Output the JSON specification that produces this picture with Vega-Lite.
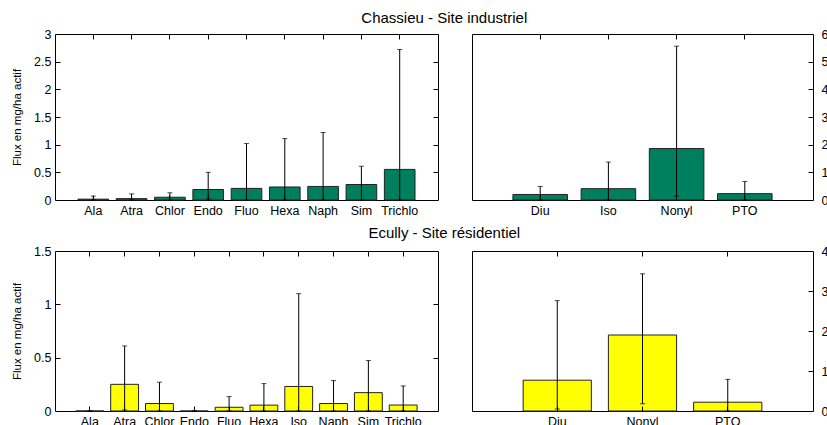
{
  "$schema": "https://vega.github.io/schema/vega-lite/v6.json",
  "autosize": {"type": "none"},
  "padding": {"left": 55, "top": 34, "right": 772, "bottom": 391},
  "background": "white",
  "config": {
    "font": "Liberation Sans",
    "view": {"stroke": "black", "strokeWidth": 1},
    "axis": {
      "domain": false,
      "grid": false,
      "labelFont": "Liberation Sans",
      "labelFontSize": 12.5,
      "labelColor": "black",
      "labelPadding": 4,
      "titleFont": "Liberation Sans",
      "titleFontSize": 11.5,
      "titleFontWeight": "normal",
      "titleColor": "black",
      "titlePadding": 11
    },
    "title": {"font": "Liberation Sans", "fontSize": 15, "fontWeight": "normal", "color": "black", "anchor": "middle", "dx": 21},
    "concat": {"spacing": 32}
  },
  "datasets": {
    "flux": [
      {"panel": "A", "cat": "Ala", "value": 0.015, "low": 0, "high": 0.07},
      {"panel": "A", "cat": "Atra", "value": 0.025, "low": 0, "high": 0.11},
      {"panel": "A", "cat": "Chlor", "value": 0.05, "low": 0, "high": 0.13},
      {"panel": "A", "cat": "Endo", "value": 0.19, "low": 0.02, "high": 0.5},
      {"panel": "A", "cat": "Fluo", "value": 0.21, "low": 0, "high": 1.02},
      {"panel": "A", "cat": "Hexa", "value": 0.235, "low": 0, "high": 1.11},
      {"panel": "A", "cat": "Naph", "value": 0.245, "low": 0, "high": 1.22},
      {"panel": "A", "cat": "Sim", "value": 0.28, "low": 0, "high": 0.61},
      {"panel": "A", "cat": "Trichlo", "value": 0.553, "low": 0, "high": 2.72},
      {"panel": "B", "cat": "Diu", "value": 2.0, "low": 0, "high": 4.9},
      {"panel": "B", "cat": "Iso", "value": 4.1, "low": 0, "high": 13.7},
      {"panel": "B", "cat": "Nonyl", "value": 18.6, "low": 1.4, "high": 55.6},
      {"panel": "B", "cat": "PTO", "value": 2.3, "low": 0, "high": 6.7},
      {"panel": "C", "cat": "Ala", "value": 0, "low": 0, "high": 0},
      {"panel": "C", "cat": "Atra", "value": 0.25, "low": 0.01, "high": 0.61},
      {"panel": "C", "cat": "Chlor", "value": 0.07, "low": 0, "high": 0.27},
      {"panel": "C", "cat": "Endo", "value": 0, "low": 0, "high": 0},
      {"panel": "C", "cat": "Fluo", "value": 0.035, "low": 0, "high": 0.135},
      {"panel": "C", "cat": "Hexa", "value": 0.055, "low": 0, "high": 0.257},
      {"panel": "C", "cat": "Iso", "value": 0.23, "low": 0, "high": 1.1},
      {"panel": "C", "cat": "Naph", "value": 0.07, "low": 0, "high": 0.285},
      {"panel": "C", "cat": "Sim", "value": 0.172, "low": 0, "high": 0.473},
      {"panel": "C", "cat": "Trichlo", "value": 0.056, "low": 0, "high": 0.235},
      {"panel": "D", "cat": "Diu", "value": 7.7, "low": 0.5, "high": 27.6},
      {"panel": "D", "cat": "Nonyl", "value": 19.0, "low": 1.8, "high": 34.3},
      {"panel": "D", "cat": "PTO", "value": 2.2, "low": 0, "high": 7.9}
    ]
  },
  "vconcat": [
    {
      "title": {"text": "Chassieu - Site industriel", "offset": 2},
      "hconcat": [
        {
          "width": 383, "height": 166,
          "data": {"name": "flux"},
          "transform": [{"filter": "datum.panel == 'A'"}],
          "layer": [
            {
              "mark": {"type": "bar", "fill": "#007f5f", "stroke": "#222222", "strokeWidth": 1},
              "encoding": {
                "x": {"field": "cat", "type": "nominal", "sort": null, "scale": {"paddingInner": 0.2, "paddingOuter": 0.6}, "axis": {"orient": "bottom", "title": null, "labelAngle": 0, "ticks": false}},
                "y": {"field": "value", "type": "quantitative", "scale": {"domain": [0, 3], "nice": false, "zero": true}, "axis": {"orient": "left", "title": "Flux en mg/ha actif", "values": [0, 0.5, 1, 1.5, 2, 2.5, 3], "format": "~g", "ticks": false}}
              }
            },
            {
              "mark": {"type": "rule", "color": "black", "strokeWidth": 1},
              "encoding": {
                "x": {"field": "cat", "type": "nominal", "sort": null, "scale": {"paddingInner": 0.2, "paddingOuter": 0.6}, "axis": {"orient": "top", "title": null, "labels": false, "ticks": true, "tickSize": 5, "tickColor": "black", "tickWidth": 1, "offset": -5, "zindex": 1}},
                "y": {"field": "low", "type": "quantitative", "scale": {"domain": [0, 3], "nice": false, "zero": true}, "axis": {"orient": "right", "title": null, "labels": false, "ticks": true, "tickSize": 5, "tickColor": "black", "tickWidth": 1, "offset": -5, "zindex": 1, "values": [0.5, 1, 1.5, 2, 2.5]}},
                "y2": {"field": "high"}
              }
            },
            {
              "mark": {"type": "tick", "color": "black", "size": 5, "thickness": 1},
              "encoding": {
                "x": {"field": "cat", "type": "nominal", "sort": null, "scale": {"paddingInner": 0.2, "paddingOuter": 0.6}, "axis": {"orient": "bottom", "title": null, "labels": false, "ticks": true, "tickSize": 5, "tickColor": "black", "tickWidth": 1, "offset": -5, "zindex": 1}},
                "y": {"field": "high", "type": "quantitative", "scale": {"domain": [0, 3], "nice": false, "zero": true}, "axis": {"orient": "left", "title": null, "labels": false, "ticks": true, "tickSize": 5, "tickColor": "black", "tickWidth": 1, "offset": -5, "zindex": 1, "values": [0.5, 1, 1.5, 2, 2.5]}}
              }
            },
            {
              "mark": {"type": "tick", "color": "black", "size": 5, "thickness": 1},
              "encoding": {
                "x": {"field": "cat", "type": "nominal", "sort": null, "scale": {"paddingInner": 0.2, "paddingOuter": 0.6}, "axis": null},
                "y": {"field": "low", "type": "quantitative", "scale": {"domain": [0, 3], "nice": false, "zero": true}, "axis": null}
              }
            }
          ],
          "resolve": {"scale": {"x": "independent", "y": "independent"}, "axis": {"x": "independent", "y": "independent"}}
        },
        {
          "width": 341, "height": 166,
          "data": {"name": "flux"},
          "transform": [{"filter": "datum.panel == 'B'"}],
          "layer": [
            {
              "mark": {"type": "bar", "fill": "#007f5f", "stroke": "#222222", "strokeWidth": 1},
              "encoding": {
                "x": {"field": "cat", "type": "nominal", "sort": null, "scale": {"paddingInner": 0.2, "paddingOuter": 0.6}, "axis": {"orient": "bottom", "title": null, "labelAngle": 0, "ticks": false}},
                "y": {"field": "value", "type": "quantitative", "scale": {"domain": [0, 60], "nice": false, "zero": true}, "axis": {"orient": "right", "title": null, "values": [0, 10, 20, 30, 40, 50, 60], "labelPadding": 8, "ticks": false}}
              }
            },
            {
              "mark": {"type": "rule", "color": "black", "strokeWidth": 1},
              "encoding": {
                "x": {"field": "cat", "type": "nominal", "sort": null, "scale": {"paddingInner": 0.2, "paddingOuter": 0.6}, "axis": {"orient": "top", "title": null, "labels": false, "ticks": true, "tickSize": 5, "tickColor": "black", "tickWidth": 1, "offset": -5, "zindex": 1}},
                "y": {"field": "low", "type": "quantitative", "scale": {"domain": [0, 60], "nice": false, "zero": true}, "axis": {"orient": "right", "title": null, "labels": false, "ticks": true, "tickSize": 5, "tickColor": "black", "tickWidth": 1, "offset": -5, "zindex": 1, "values": [10, 20, 30, 40, 50]}},
                "y2": {"field": "high"}
              }
            },
            {
              "mark": {"type": "tick", "color": "black", "size": 5, "thickness": 1},
              "encoding": {
                "x": {"field": "cat", "type": "nominal", "sort": null, "scale": {"paddingInner": 0.2, "paddingOuter": 0.6}, "axis": {"orient": "bottom", "title": null, "labels": false, "ticks": true, "tickSize": 5, "tickColor": "black", "tickWidth": 1, "offset": -5, "zindex": 1}},
                "y": {"field": "high", "type": "quantitative", "scale": {"domain": [0, 60], "nice": false, "zero": true}, "axis": null}
              }
            },
            {
              "mark": {"type": "tick", "color": "black", "size": 5, "thickness": 1},
              "encoding": {
                "x": {"field": "cat", "type": "nominal", "sort": null, "scale": {"paddingInner": 0.2, "paddingOuter": 0.6}, "axis": null},
                "y": {"field": "low", "type": "quantitative", "scale": {"domain": [0, 60], "nice": false, "zero": true}, "axis": null}
              }
            }
          ],
          "resolve": {"scale": {"x": "independent", "y": "independent"}, "axis": {"x": "independent", "y": "independent"}}
        }
      ]
    },
    {
      "title": {"text": "Ecully - Site résidentiel", "offset": 4},
      "hconcat": [
        {
          "width": 383, "height": 160,
          "data": {"name": "flux"},
          "transform": [{"filter": "datum.panel == 'C'"}],
          "layer": [
            {
              "mark": {"type": "bar", "fill": "#ffff00", "stroke": "#222222", "strokeWidth": 1},
              "encoding": {
                "x": {"field": "cat", "type": "nominal", "sort": null, "scale": {"paddingInner": 0.2, "paddingOuter": 0.6}, "axis": {"orient": "bottom", "title": null, "labelAngle": 0, "ticks": false}},
                "y": {"field": "value", "type": "quantitative", "scale": {"domain": [0, 1.5], "nice": false, "zero": true}, "axis": {"orient": "left", "title": "Flux en mg/ha actif", "values": [0, 0.5, 1, 1.5], "format": "~g", "ticks": false}}
              }
            },
            {
              "mark": {"type": "rule", "color": "black", "strokeWidth": 1},
              "encoding": {
                "x": {"field": "cat", "type": "nominal", "sort": null, "scale": {"paddingInner": 0.2, "paddingOuter": 0.6}, "axis": {"orient": "top", "title": null, "labels": false, "ticks": true, "tickSize": 5, "tickColor": "black", "tickWidth": 1, "offset": -5, "zindex": 1}},
                "y": {"field": "low", "type": "quantitative", "scale": {"domain": [0, 1.5], "nice": false, "zero": true}, "axis": {"orient": "right", "title": null, "labels": false, "ticks": true, "tickSize": 5, "tickColor": "black", "tickWidth": 1, "offset": -5, "zindex": 1, "values": [0.5, 1]}},
                "y2": {"field": "high"}
              }
            },
            {
              "mark": {"type": "tick", "color": "black", "size": 5, "thickness": 1},
              "encoding": {
                "x": {"field": "cat", "type": "nominal", "sort": null, "scale": {"paddingInner": 0.2, "paddingOuter": 0.6}, "axis": {"orient": "bottom", "title": null, "labels": false, "ticks": true, "tickSize": 5, "tickColor": "black", "tickWidth": 1, "offset": -5, "zindex": 1}},
                "y": {"field": "high", "type": "quantitative", "scale": {"domain": [0, 1.5], "nice": false, "zero": true}, "axis": {"orient": "left", "title": null, "labels": false, "ticks": true, "tickSize": 5, "tickColor": "black", "tickWidth": 1, "offset": -5, "zindex": 1, "values": [0.5, 1]}}
              }
            },
            {
              "mark": {"type": "tick", "color": "black", "size": 5, "thickness": 1},
              "encoding": {
                "x": {"field": "cat", "type": "nominal", "sort": null, "scale": {"paddingInner": 0.2, "paddingOuter": 0.6}, "axis": null},
                "y": {"field": "low", "type": "quantitative", "scale": {"domain": [0, 1.5], "nice": false, "zero": true}, "axis": null}
              }
            }
          ],
          "resolve": {"scale": {"x": "independent", "y": "independent"}, "axis": {"x": "independent", "y": "independent"}}
        },
        {
          "width": 341, "height": 160,
          "data": {"name": "flux"},
          "transform": [{"filter": "datum.panel == 'D'"}],
          "layer": [
            {
              "mark": {"type": "bar", "fill": "#ffff00", "stroke": "#222222", "strokeWidth": 1},
              "encoding": {
                "x": {"field": "cat", "type": "nominal", "sort": null, "scale": {"paddingInner": 0.2, "paddingOuter": 0.6}, "axis": {"orient": "bottom", "title": null, "labelAngle": 0, "ticks": false}},
                "y": {"field": "value", "type": "quantitative", "scale": {"domain": [0, 40], "nice": false, "zero": true}, "axis": {"orient": "right", "title": null, "values": [0, 10, 20, 30, 40], "labelPadding": 8, "ticks": false}}
              }
            },
            {
              "mark": {"type": "rule", "color": "black", "strokeWidth": 1},
              "encoding": {
                "x": {"field": "cat", "type": "nominal", "sort": null, "scale": {"paddingInner": 0.2, "paddingOuter": 0.6}, "axis": {"orient": "top", "title": null, "labels": false, "ticks": true, "tickSize": 5, "tickColor": "black", "tickWidth": 1, "offset": -5, "zindex": 1}},
                "y": {"field": "low", "type": "quantitative", "scale": {"domain": [0, 40], "nice": false, "zero": true}, "axis": {"orient": "right", "title": null, "labels": false, "ticks": true, "tickSize": 5, "tickColor": "black", "tickWidth": 1, "offset": -5, "zindex": 1, "values": [10, 20, 30]}},
                "y2": {"field": "high"}
              }
            },
            {
              "mark": {"type": "tick", "color": "black", "size": 5, "thickness": 1},
              "encoding": {
                "x": {"field": "cat", "type": "nominal", "sort": null, "scale": {"paddingInner": 0.2, "paddingOuter": 0.6}, "axis": {"orient": "bottom", "title": null, "labels": false, "ticks": true, "tickSize": 5, "tickColor": "black", "tickWidth": 1, "offset": -5, "zindex": 1}},
                "y": {"field": "high", "type": "quantitative", "scale": {"domain": [0, 40], "nice": false, "zero": true}, "axis": null}
              }
            },
            {
              "mark": {"type": "tick", "color": "black", "size": 5, "thickness": 1},
              "encoding": {
                "x": {"field": "cat", "type": "nominal", "sort": null, "scale": {"paddingInner": 0.2, "paddingOuter": 0.6}, "axis": null},
                "y": {"field": "low", "type": "quantitative", "scale": {"domain": [0, 40], "nice": false, "zero": true}, "axis": null}
              }
            }
          ],
          "resolve": {"scale": {"x": "independent", "y": "independent"}, "axis": {"x": "independent", "y": "independent"}}
        }
      ]
    }
  ],
  "spacing": 8
}
